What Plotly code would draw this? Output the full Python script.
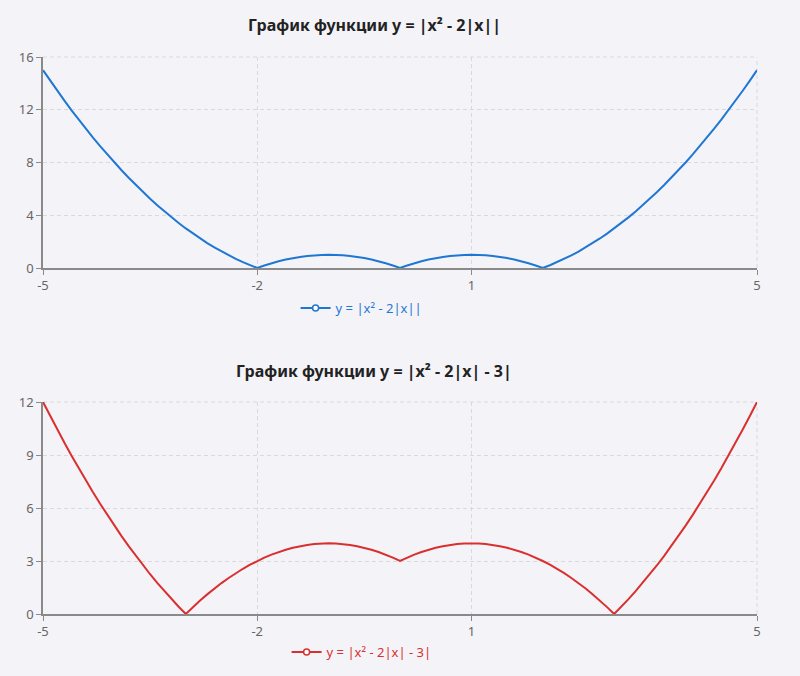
import plotly.graph_objects as go

x_vals = [-5.0, -4.9, -4.8, -4.7, -4.6, -4.5, -4.4, -4.3, -4.2, -4.1,
          -4.0, -3.9, -3.8, -3.7, -3.6, -3.5, -3.4, -3.3, -3.2, -3.1,
          -3.0, -2.9, -2.8, -2.7, -2.6, -2.5, -2.4, -2.3, -2.2, -2.1,
          -2.0, -1.9, -1.8, -1.7, -1.6, -1.5, -1.4, -1.3, -1.2, -1.1,
          -1.0, -0.9, -0.8, -0.7, -0.6, -0.5, -0.4, -0.3, -0.2, -0.1,
          0.0, 0.1, 0.2, 0.3, 0.4, 0.5, 0.6, 0.7, 0.8, 0.9,
          1.0, 1.1, 1.2, 1.3, 1.4, 1.5, 1.6, 1.7, 1.8, 1.9,
          2.0, 2.1, 2.2, 2.3, 2.4, 2.5, 2.6, 2.7, 2.8, 2.9,
          3.0, 3.1, 3.2, 3.3, 3.4, 3.5, 3.6, 3.7, 3.8, 3.9,
          4.0, 4.1, 4.2, 4.3, 4.4, 4.5, 4.6, 4.7, 4.8, 4.9, 5.0]

y_top = [15.0, 14.21, 13.44, 12.69, 11.96, 11.25, 10.56, 9.89, 9.24, 8.61,
         8.0, 7.41, 6.84, 6.29, 5.76, 5.25, 4.76, 4.29, 3.84, 3.41,
         3.0, 2.61, 2.24, 1.89, 1.56, 1.25, 0.96, 0.69, 0.44, 0.21,
         0.0, 0.19, 0.36, 0.51, 0.64, 0.75, 0.84, 0.91, 0.96, 0.99,
         1.0, 0.99, 0.96, 0.91, 0.84, 0.75, 0.64, 0.51, 0.36, 0.19,
         0.0, 0.19, 0.36, 0.51, 0.64, 0.75, 0.84, 0.91, 0.96, 0.99,
         1.0, 0.99, 0.96, 0.91, 0.84, 0.75, 0.64, 0.51, 0.36, 0.19,
         0.0, 0.21, 0.44, 0.69, 0.96, 1.25, 1.56, 1.89, 2.24, 2.61,
         3.0, 3.41, 3.84, 4.29, 4.76, 5.25, 5.76, 6.29, 6.84, 7.41,
         8.0, 8.61, 9.24, 9.89, 10.56, 11.25, 11.96, 12.69, 13.44, 14.21, 15.0]

y_bottom = [12.0, 11.21, 10.44, 9.69, 8.96, 8.25, 7.56, 6.89, 6.24, 5.61,
            5.0, 4.41, 3.84, 3.29, 2.76, 2.25, 1.76, 1.29, 0.84, 0.41,
            0.0, 0.39, 0.76, 1.11, 1.44, 1.75, 2.04, 2.31, 2.56, 2.79,
            3.0, 3.19, 3.36, 3.51, 3.64, 3.75, 3.84, 3.91, 3.96, 3.99,
            4.0, 3.99, 3.96, 3.91, 3.84, 3.75, 3.64, 3.51, 3.36, 3.19,
            3.0, 3.19, 3.36, 3.51, 3.64, 3.75, 3.84, 3.91, 3.96, 3.99,
            4.0, 3.99, 3.96, 3.91, 3.84, 3.75, 3.64, 3.51, 3.36, 3.19,
            3.0, 2.79, 2.56, 2.31, 2.04, 1.75, 1.44, 1.11, 0.76, 0.39,
            0.0, 0.41, 0.84, 1.29, 1.76, 2.25, 2.76, 3.29, 3.84, 4.41,
            5.0, 5.61, 6.24, 6.89, 7.56, 8.25, 8.96, 9.69, 10.44, 11.21, 12.0]

x_ticks = [-5, -2, 1, 5]
x_tick_labels = ["-5", "-2", "1", "5"]
y_top_ticks = [0, 4, 8, 12, 16]
y_bottom_ticks = [0, 3, 6, 9, 12]

name_top = "y = |x² - 2|x||"
name_bottom = "y = |x² - 2|x| - 3|"
title_top = "График функции y = |x² - 2|x||"
title_bottom = "График функции y = |x² - 2|x| - 3|"

BLUE = "#1f77d4"
RED = "#d9302f"
BG = "#f4f3f8"
GRID = "#d9d9de"
FONT = "Noto Sans, Open Sans, sans-serif"

fig = go.Figure()

fig.add_trace(go.Scatter(x=x_vals, y=y_top, mode="lines", name=name_top,
                         line=dict(color=BLUE, width=2), xaxis="x", yaxis="y",
                         showlegend=False))
fig.add_trace(go.Scatter(x=[None], y=[None], mode="lines+markers", name=name_top,
                         line=dict(color=BLUE, width=2),
                         marker=dict(symbol="circle", size=6, color="white",
                                     line=dict(color=BLUE, width=1.5)),
                         xaxis="x", yaxis="y", legend="legend"))

fig.add_trace(go.Scatter(x=x_vals, y=y_bottom, mode="lines", name=name_bottom,
                         line=dict(color=RED, width=2), xaxis="x2", yaxis="y2",
                         showlegend=False))
fig.add_trace(go.Scatter(x=[None], y=[None], mode="lines+markers", name=name_bottom,
                         line=dict(color=RED, width=2),
                         marker=dict(symbol="circle", size=6, color="white",
                                     line=dict(color=RED, width=1.5)),
                         xaxis="x2", yaxis="y2", legend="legend2"))

W, H = 800, 676
xd = [43 / W, 757 / W]

axis_common = dict(
    showgrid=True, gridcolor=GRID, griddash="4px,3px", gridwidth=1,
    zeroline=False, showline=True, linecolor="#8a8a8a", linewidth=1.5,
    ticks="outside", ticklen=5, tickcolor="#8a8a8a", automargin=False,
    tickfont=dict(family=FONT, size=13, color="#666666"),
)

# edge grid lines (right edge and top edge of each plot area)
edge_shapes = []
for xa, ya in (("x", "y"), ("x2", "y2")):
    edge_shapes.append(dict(type="line", xref=xa + " domain", yref=ya + " domain",
                            x0=1, x1=1, y0=0, y1=1, layer="below",
                            line=dict(color=GRID, width=1, dash="4px,3px")))
    edge_shapes.append(dict(type="line", xref=xa + " domain", yref=ya + " domain",
                            x0=0, x1=1, y0=1, y1=1, layer="below",
                            line=dict(color=GRID, width=1, dash="4px,3px")))

fig.update_layout(
    width=W, height=H,
    paper_bgcolor=BG, plot_bgcolor=BG,
    margin=dict(l=0, r=0, t=0, b=0),
    font=dict(family=FONT),
    xaxis=dict(domain=xd, anchor="y", range=[-5, 5], tickmode="array",
               tickvals=x_ticks, ticktext=x_tick_labels, **axis_common),
    yaxis=dict(domain=[(H - 268) / H, (H - 57) / H], anchor="x", range=[0, 16],
               tickmode="array", tickvals=y_top_ticks, **axis_common),
    xaxis2=dict(domain=xd, anchor="y2", range=[-5, 5], tickmode="array",
                tickvals=x_ticks, ticktext=x_tick_labels, **axis_common),
    yaxis2=dict(domain=[(H - 614) / H, (H - 402) / H], anchor="x2", range=[0, 12],
                tickmode="array", tickvals=y_bottom_ticks, **axis_common),
    legend=dict(x=0.452, y=(H - 308) / H, xanchor="center", yanchor="middle",
                orientation="h", bgcolor="rgba(0,0,0,0)",
                font=dict(family=FONT, size=13, color=BLUE), itemwidth=30),
    legend2=dict(x=0.452, y=(H - 652) / H, xanchor="center", yanchor="middle",
                 orientation="h", bgcolor="rgba(0,0,0,0)",
                 font=dict(family=FONT, size=13, color=RED), itemwidth=30),
    shapes=edge_shapes,
    annotations=[
        dict(text="<b>" + title_top + "</b>", x=374 / W, y=(H - 25) / H,
             xref="paper", yref="paper", showarrow=False,
             xanchor="center", yanchor="middle",
             font=dict(family=FONT, size=16, color="#222222")),
        dict(text="<b>" + title_bottom + "</b>", x=374 / W, y=(H - 371) / H,
             xref="paper", yref="paper", showarrow=False,
             xanchor="center", yanchor="middle",
             font=dict(family=FONT, size=16, color="#222222")),
    ],
)

fig.write_html(
    "out.html",
    config={"displayModeBar": False},
    post_script="document.body.style.margin='0';document.body.style.background='"
    + BG + "';document.body.style.overflow='hidden';",
)
